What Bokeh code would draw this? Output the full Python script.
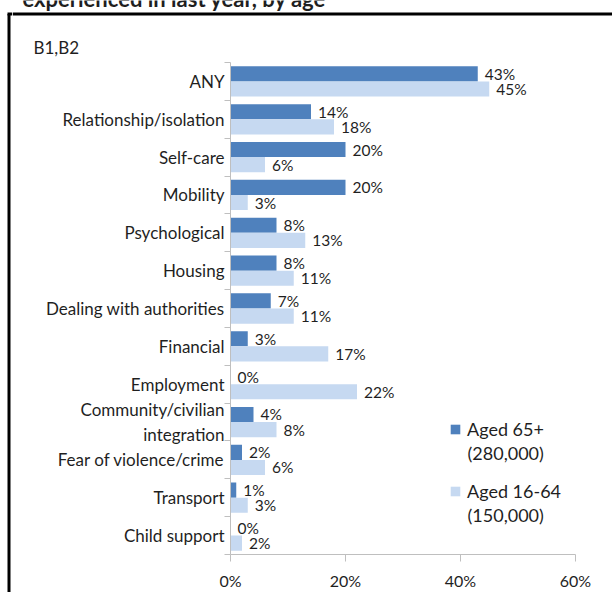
from bokeh.plotting import figure
from bokeh.layouts import column, row
from bokeh.models import (ColumnDataSource, FixedTicker, PrintfTickFormatter, Range1d,
                          Label, Legend, LegendItem)
from bokeh.embed import file_html
from bokeh.resources import INLINE
from bokeh.core.properties import value

# ---- data ----
categories = ["ANY", "Relationship/isolation", "Self-care", "Mobility", "Psychological",
              "Housing", "Dealing with authorities", "Financial", "Employment",
              "Community/civilian\nintegration", "Fear of violence/crime", "Transport",
              "Child support"]
aged_65_plus = [43, 14, 20, 20, 8, 8, 7, 3, 0, 4, 2, 1, 0]
aged_16_64 = [45, 18, 6, 3, 13, 11, 11, 17, 22, 8, 6, 3, 2]
series_names = ["Aged 65+", "Aged 16-64"]
series_counts = ["(280,000)", "(150,000)"]
x_ticks = [0, 20, 40, 60]
chart_ref = "B1,B2"
title_text = "experienced in last year, by age"

# ---- style ----
FONT = "Lato"
DARK = "#4F81BD"
LIGHT = "#C6D9F1"
AXIS = "#BFBFBF"
TEXT = "#1F1F1F"
W, H = 612, 592
HEAD = 62      # header strip height (box top edge, title, B1,B2)
STRIP = 12     # left strip width (box left edge)
BOX_X, BOX_Y = 8.5, 13.5


def bare(width, height, xr, yr):
    f = figure(width=width, height=height, output_backend="svg", toolbar_location=None,
               x_range=xr, y_range=yr, x_axis_location=None, y_axis_location=None,
               min_border=0, title=None)
    f.grid.visible = False
    f.outline_line_color = None
    f.background_fill_color = "white"
    f.border_fill_color = "white"
    return f


# ---- left strip (full height): box left edge and corner ----
strip = bare(STRIP, H, Range1d(0, STRIP), Range1d(H, 0))
strip.segment(x0=[BOX_X, BOX_X - 1.5], y0=[BOX_Y, BOX_Y], x1=[BOX_X, STRIP], y1=[H, BOX_Y],
              line_color="black", line_width=3)

# ---- header: page title (cut at top like the source), box top edge, B1,B2 ----
HW = W - STRIP
header = bare(HW, HEAD, Range1d(0, HW), Range1d(HEAD, 0))
header.segment(x0=[0], y0=[BOX_Y], x1=[HW], y1=[BOX_Y], line_color="black", line_width=3)
header.text(x=[22 - STRIP], y=[-2], text=[title_text], text_baseline="alphabetic",
            text_font=value(FONT), text_font_size="22px", text_font_style="bold",
            text_color=TEXT)
header.text(x=[33 - STRIP], y=[47], text=[chart_ref], text_baseline="middle",
            text_font=value(FONT), text_font_size="17px", text_color=TEXT)

# ---- main chart ----
n = len(categories)
centers = [n - i - 0.5 for i in range(n)]
y65 = [c + 0.2 for c in centers]
y16 = [c - 0.2 for c in centers]

src65 = ColumnDataSource(dict(y=y65, v=aged_65_plus, lbl=[f"{v}%" for v in aged_65_plus]))
src16 = ColumnDataSource(dict(y=y16, v=aged_16_64, lbl=[f"{v}%" for v in aged_16_64]))

PW, PH = W - STRIP, H - HEAD
p = figure(width=PW, height=PH, output_backend="svg", toolbar_location=None, title=None,
           x_range=Range1d(0, 60), y_range=Range1d(0, n),
           min_border_left=230 - STRIP, min_border_right=W - 575, min_border_top=0,
           min_border_bottom=H - 555)
p.xgrid.visible = False
p.ygrid.visible = False
p.outline_line_color = None
p.background_fill_color = "white"
p.border_fill_color = "white"

r65 = p.hbar(y="y", right="v", left=0, height=0.4, source=src65, fill_color=DARK, line_color=None)
r16 = p.hbar(y="y", right="v", left=0, height=0.4, source=src16, fill_color=LIGHT, line_color=None)

for src in (src65, src16):
    p.text(x="v", y="y", text="lbl", source=src, x_offset=7, text_baseline="middle",
           text_align="left", text_font=value(FONT), text_font_size="15.5px", text_color=TEXT)

# x axis
xa = p.xaxis[0]
xa.ticker = FixedTicker(ticks=x_ticks)
xa.formatter = PrintfTickFormatter(format="%d%%")
xa.axis_line_color = AXIS
xa.major_tick_line_color = AXIS
xa.major_tick_in = 0
xa.major_tick_out = 7
xa.minor_tick_line_color = None
xa.major_label_standoff = 9
xa.major_label_text_font = FONT
xa.major_label_text_font_size = "16px"
xa.major_label_text_color = TEXT

# y axis
ya = p.yaxis[0]
ya.ticker = FixedTicker(ticks=centers, minor_ticks=list(range(n + 1)))
ya.major_label_overrides = {c: cat for c, cat in zip(centers, categories)}
ya.axis_line_color = AXIS
ya.major_tick_line_color = None
ya.major_tick_in = 0
ya.major_tick_out = 0
ya.minor_tick_line_color = AXIS
ya.minor_tick_in = 0
ya.minor_tick_out = 6
ya.major_label_standoff = 0
ya.major_label_text_font = FONT
ya.major_label_text_font_size = "17px"
ya.major_label_text_color = TEXT

# legend
legend = Legend(items=[LegendItem(label=series_names[0], renderers=[r65]),
                       LegendItem(label=series_names[1], renderers=[r16])],
                location=(219, 52), glyph_width=12, glyph_height=12, label_height=20,
                spacing=40, padding=0, margin=0, label_standoff=6,
                label_text_font=FONT, label_text_font_size="18px", label_text_color=TEXT,
                border_line_color=None, background_fill_alpha=0)
p.add_layout(legend)

for txt, yy in zip(series_counts, (102, 40)):
    p.add_layout(Label(x=237, y=yy, x_units="screen", y_units="screen", text=txt,
                       text_baseline="middle", text_font=FONT, text_font_size="18px",
                       text_color=TEXT))

# nest each figure in its own row so the layout does not align their frames
layout = row(strip, column(row(header, spacing=0), row(p, spacing=0), spacing=0), spacing=0)

open("out.html", "w").write(file_html(layout, INLINE))
